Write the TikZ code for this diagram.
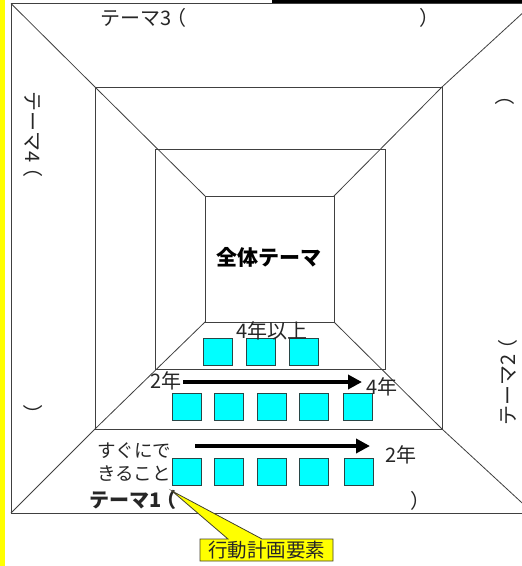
\documentclass[tikz,border=0pt]{standalone}
\usepackage{fontspec}
\setmainfont{Noto Sans CJK JP}
\usetikzlibrary{arrows.meta}
\definecolor{aqua}{RGB}{0,255,255}
\definecolor{yel}{RGB}{255,255,0}
\definecolor{sqedge}{RGB}{40,70,70}
\newcommand{\lp}{\kern-0.25em（}
\begin{document}
\begin{tikzpicture}[x=1pt,y=-1pt,
  frame/.style={draw=black!75,line width=0.8pt},
  sq/.style={draw=sqedge,line width=0.8pt,fill=aqua,minimum width=29pt,minimum height=27pt,inner sep=0pt},
  lbl/.style={font=\fontsize{20}{23}\selectfont,inner sep=0pt,text=black!85},
  bigarrow/.style={line width=4pt,-{Triangle[length=14pt,width=14pt]}},
]
\useasboundingbox (0,0) rectangle (522,566);
\clip (0,0) rectangle (522,566);
\fill[white] (0,0) rectangle (522,566);
\fill[yel] (0,0) rectangle (5,566);
\fill[black] (272,0) rectangle (522,3);
% frames
\draw[frame] (11,3.5) rectangle (533,513);
\draw[frame] (95,87) rectangle (442,429);
\draw[frame] (155,149) rectangle (385,369);
\draw[frame] (205,196) rectangle (334,322);
\draw[frame] (11,3.5) -- (95,87) -- (205,196);
\draw[frame] (533,3.5) -- (442,87) -- (334,196);
\draw[frame] (11,513) -- (95,429) -- (205,322);
\draw[frame] (533,513) -- (442,429) -- (334,322);
% squares row 1
\node[sq] (a1) at (217.5,351.5) {};
\node[sq] (a2) at (260.5,351.5) {};
\node[sq] (a3) at (303.5,351.5) {};
% row 2
\node[sq] (b1) at (186.5,407) {};
\node[sq] (b2) at (228.5,407) {};
\node[sq] (b3) at (271.5,407) {};
\node[sq] (b4) at (313.5,407) {};
\node[sq] (b5) at (358,407) {};
% row 3
\node[sq] (c1) at (186.5,472) {};
\node[sq] (c2) at (229,472) {};
\node[sq] (c3) at (271.5,472) {};
\node[sq] (c4) at (313.5,472) {};
\node[sq] (c5) at (358.5,472) {};
% arrows
\coordinate (r2s) at (183,382);
\coordinate (r2e) at (362,382);
\coordinate (r3s) at (195,446);
\coordinate (r3e) at (370,446);
\draw[bigarrow] (r2s) -- (r2e);
\draw[bigarrow] (r3s) -- (r3e);
% labels
\node[lbl] (t4up) at (272,331) {4年以上};
\node[lbl] (t2a) at (166,381) {2年};
\node[lbl] (t4a) at (382,387) {4年};
\node[lbl,anchor=west,align=left,font=\fontsize{18.5}{23}\selectfont] (now) at (97,461.5) {すぐにで\\きること};
\node[lbl] (t2b) at (401,455) {2年};
\node[lbl,anchor=west,font=\fontsize{20}{23}\selectfont\bfseries] (th1) at (89,500) {テーマ1\lp};
\node[lbl,anchor=west] (th1c) at (410,501) {）};
\node[lbl,anchor=west] (th3) at (100,18) {テーマ3\lp};
\node[lbl,anchor=west] (th3c) at (419,18) {）};
\node[lbl,anchor=west,rotate=-90] (th4) at (33,91) {テーマ4\lp};
\node[lbl,anchor=west,rotate=-90] (th4c) at (33,404) {）};
\node[lbl,anchor=west,rotate=90] (th2) at (508,426) {テーマ2\lp};
\node[lbl,anchor=west,rotate=90] (th2c) at (505,106) {）};
\node[font=\fontsize{21}{24}\selectfont\bfseries,inner sep=0pt] (whole) at (269,257) {全体テーマ};
% callout
\coordinate (tip) at (172,491);
\filldraw[fill=yel,draw=black!70!olive,line width=0.8pt]
  (200,539) -- (228,539) -- (tip) -- (262,539) -- (333,539) -- (333,561) -- (200,561) -- cycle;
\node[lbl,font=\fontsize{19.5}{22}\selectfont] (call) at (266.5,550) {行動計画要素};
\end{tikzpicture}
\end{document}
